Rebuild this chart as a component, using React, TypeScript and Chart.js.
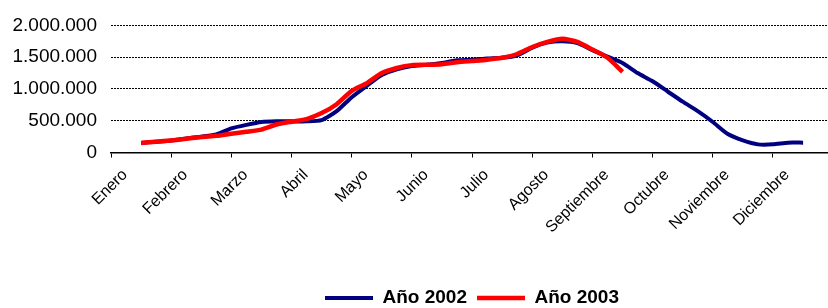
import React, { useEffect, useRef } from "react";
import { Chart, registerables } from "chart.js";

Chart.register(...registerables);

// Month labels on the x axis
const months = [
  "Enero", "Febrero", "Marzo", "Abril", "Mayo", "Junio",
  "Julio", "Agosto", "Septiembre", "Octubre", "Noviembre", "Diciembre",
];

// Data are sampled 4 times per month, starting at the 3rd sample (half of January)
const pointsPerMonth = 4;
const firstSample = 2;

const serie2002 = [
  150000, 170000, 190000, 220000, 250000, 285000, 380000, 435000, 480000, 490000,
  490000, 490000, 510000, 650000, 870000, 1050000, 1220000, 1310000, 1360000, 1380000,
  1410000, 1450000, 1460000, 1480000, 1490000, 1530000, 1650000, 1730000, 1750000, 1720000,
  1610000, 1510000, 1410000, 1250000, 1120000, 960000, 800000, 650000, 480000, 290000,
  190000, 128000, 128000, 155000, 155000,
];

const serie2003 = [
  150000, 170000, 190000, 215000, 245000, 262000, 295000, 325000, 360000, 440000,
  485000, 525000, 620000, 760000, 970000, 1090000, 1250000, 1330000, 1375000, 1380000,
  1390000, 1420000, 1440000, 1460000, 1490000, 1550000, 1660000, 1740000, 1790000, 1740000,
  1620000, 1490000, 1270000,
];

const yTickValues = [0, 500000, 1000000, 1500000, 2000000];

const FONT = "'Liberation Sans', Arial, Helvetica, sans-serif";

function fmt(v: number): string {
  const s = Math.round(v).toString();
  return s.replace(/\B(?=(\d{3})+(?!\d))/g, ".");
}

function toPoints(values: number[]) {
  return values.map((y, i) => ({ x: (firstSample + i) / pointsPerMonth, y }));
}

export default function App() {
  const ref = useRef<HTMLCanvasElement | null>(null);

  useEffect(() => {
    if (!ref.current) return;
    const chart = new Chart(ref.current, {
      type: "line",
      data: {
        datasets: [
          {
            label: "Año 2002",
            data: toPoints(serie2002),
            borderColor: "#000080",
            backgroundColor: "#000080",
            borderWidth: 4,
            pointRadius: 0,
            tension: 0.2,
            order: 1,
          },
          {
            label: "Año 2003",
            data: toPoints(serie2003),
            borderColor: "#FF0000",
            backgroundColor: "#FF0000",
            borderWidth: 4.5,
            pointRadius: 0,
            tension: 0.2,
            order: 0,
          },
        ],
      },
      options: {
        animation: false,
        responsive: false,
        devicePixelRatio: 1,
        layout: { padding: { top: 21, left: 0, right: -116, bottom: -9.5 } },
        plugins: {
          tooltip: { enabled: false },
          legend: {
            position: "bottom",
            labels: {
              usePointStyle: true,
              pointStyle: "line",
              pointStyleWidth: 48,
              padding: 10,
              color: "#000",
              font: { family: FONT, size: 19, weight: "bold" },
              sort: (a: any, b: any) => a.datasetIndex - b.datasetIndex,
            },
          },
        },
        scales: {
          x: {
            type: "linear",
            min: 0,
            max: 11.914,
            afterBuildTicks: (s: any) => {
              s.ticks = months.map((_, i) => ({ value: i }));
            },
            afterFit: (s: any) => {
              s.height = 126;
            },
            ticks: {
              autoSkip: false,
              minRotation: 45,
              maxRotation: 45,
              labelOffset: 14,
              padding: 8,
              color: "#000",
              font: { family: FONT, size: 16 },
              callback: (v: any) => months[Math.round(Number(v))] ?? "",
            },
            grid: {
              drawOnChartArea: false,
              drawTicks: true,
              tickLength: 5,
              color: "#000",
              lineWidth: 1,
            },
            border: { display: true, color: "#000", width: 1.5 },
          },
          y: {
            min: 0,
            max: 2000000,
            afterBuildTicks: (s: any) => {
              s.ticks = yTickValues.map((v) => ({ value: v }));
            },
            afterFit: (s: any) => {
              s.width = 111;
            },
            ticks: {
              padding: 14,
              color: "#000",
              font: { family: FONT, size: 19 },
              callback: (v: any) => fmt(Number(v)),
            },
            grid: {
              drawTicks: false,
              color: "#000",
              lineWidth: 1,
            },
            border: { display: false, dash: [2, 1] },
          },
        },
      },
    });
    return () => chart.destroy();
  }, []);

  return (
    <div style={{ position: "absolute", left: 0, top: 0, width: 828, height: 308 }}>
      <canvas ref={ref} width={828} height={308} />
    </div>
  );
}
